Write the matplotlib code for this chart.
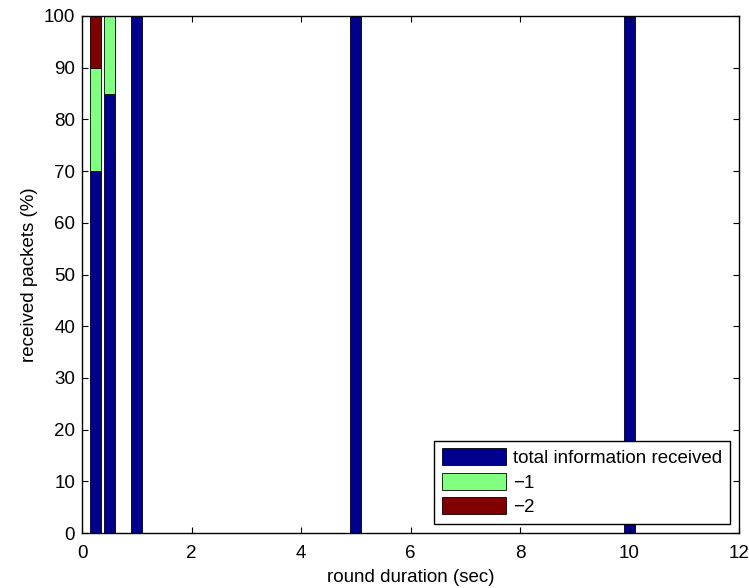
import matplotlib
matplotlib.use("Agg")
import matplotlib.pyplot as plt
import numpy as np

plt.rcParams['font.family'] = ['Liberation Sans', 'DejaVu Sans']

# round durations (sec) and stacked percentages
durations = [0.25, 0.5, 1, 5, 10]
total_info = [70, 85, 100, 100, 100]
minus_one = [20, 15, 0, 0, 0]
minus_two = [10, 0, 0, 0, 0]
labels = ['total information received', '\u22121', '\u22122']

fig = plt.figure(figsize=(7.49, 5.88), dpi=100)
ax = fig.add_axes([82 / 749, 55 / 588, 657 / 749, 517 / 588])

w = 0.2
x = np.array(durations)
b1 = np.array(total_info)
b2 = np.array(minus_one)
b3 = np.array(minus_two)
ax.bar(x, b1, width=w, color='#00008F', edgecolor='black', linewidth=0.6, label=labels[0])
ax.bar(x, b2, width=w, bottom=b1, color='#80FF80', edgecolor='black', linewidth=0.6, label=labels[1])
ax.bar(x, b3, width=w, bottom=b1 + b2, color='#800000', edgecolor='black', linewidth=0.6, label=labels[2])

ax.set_xlim(0, 12)
ax.set_ylim(0, 100)
ax.set_xticks(np.arange(0, 13, 2))
ax.set_yticks(np.arange(0, 101, 10))
ax.tick_params(direction='in', top=True, right=True, labelsize=13.5, length=4)
ax.tick_params(axis='x', pad=9)
ax.tick_params(axis='y', pad=5)
for s in ax.spines.values():
    s.set_linewidth(1.0)
ax.set_xlabel('round duration (sec)', fontsize=13.5, labelpad=5)
ax.set_ylabel('received packets (%)', fontsize=13.5, labelpad=4)

leg = ax.legend(loc='lower right', fontsize=13.5, fancybox=False, framealpha=1,
                edgecolor='black', borderaxespad=0.5, handlelength=3.4,
                handleheight=1.0, labelspacing=0.3, borderpad=0.4,
                handletextpad=0.4)
leg.get_frame().set_linewidth(1.0)

fig.savefig('out.png', dpi=100)
